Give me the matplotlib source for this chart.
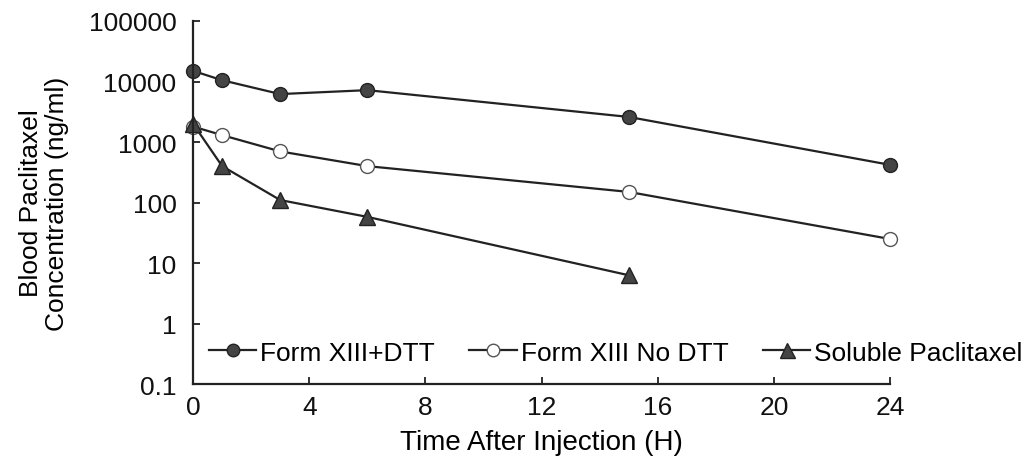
import matplotlib
matplotlib.use("Agg")
import matplotlib.pyplot as plt
from matplotlib.ticker import FixedLocator, NullLocator

plt.rcParams['font.family'] = ['Liberation Sans', 'DejaVu Sans']

# dados
tempo = [0, 1, 3, 6, 15, 24]
tempo_soluvel = [0, 1, 3, 6, 15]
form_dtt = [15000, 10500, 6200, 7200, 2600, 420]
form_sem_dtt = [1800, 1300, 700, 400, 150, 25]
soluvel = [2000, 400, 110, 58, 6.3]

yticks = [0.1, 1, 10, 100, 1000, 10000, 100000]
ytick_labels = ["0.1", "1", "10", "100", "1000", "10000", "100000"]
xticks = [0, 4, 8, 12, 16, 20, 24]

fig = plt.figure(figsize=(10.27, 4.64), dpi=100)
ax = fig.add_axes([0.188, 0.170, 0.6786, 0.7826])

cor = '#222222'
ax.plot(tempo, form_dtt, '-o', color=cor, lw=1.6, ms=10, clip_on=False,
        mfc='#444444', mec=cor, label='Form XIII+DTT')
ax.plot(tempo, form_sem_dtt, '-o', color=cor, lw=1.6, ms=10, clip_on=False,
        mfc='white', mec='#555555', mew=1.0, label='Form XIII No DTT')
ax.plot(tempo_soluvel, soluvel, '-^', color=cor, lw=1.6, ms=12, clip_on=False,
        mfc='#444444', mec=cor, label='Soluble Paclitaxel')

ax.set_yscale('log')
ax.set_ylim(0.1, 100000)
ax.set_xlim(0, 24)
ax.yaxis.set_major_locator(FixedLocator(yticks))
ax.yaxis.set_minor_locator(NullLocator())
ax.set_yticklabels(ytick_labels)
ax.set_xticks(xticks)

for s in ['top', 'right']:
    ax.spines[s].set_visible(False)
for s in ['left', 'bottom']:
    ax.spines[s].set_linewidth(1.6)
    ax.spines[s].set_color(cor)

ax.tick_params(axis='both', direction='in', length=5, width=1.2,
               labelsize=19, colors='#111111')
ax.tick_params(axis='y', pad=12)
ax.tick_params(axis='x', pad=8)

ax.set_xlabel('Time After Injection (H)', fontsize=20, labelpad=7)
ax.set_ylabel('Blood Paclitaxel\nConcentration (ng/ml)', fontsize=19,
              labelpad=14, linespacing=1.1)

ax.legend(loc='lower left', bbox_to_anchor=(0.0, 0.01), ncol=3,
          frameon=False, fontsize=19, handlelength=1.8, handletextpad=0.15,
          columnspacing=1.3, markerscale=0.9, borderaxespad=0.2)

fig.savefig('out.png', dpi=100)
